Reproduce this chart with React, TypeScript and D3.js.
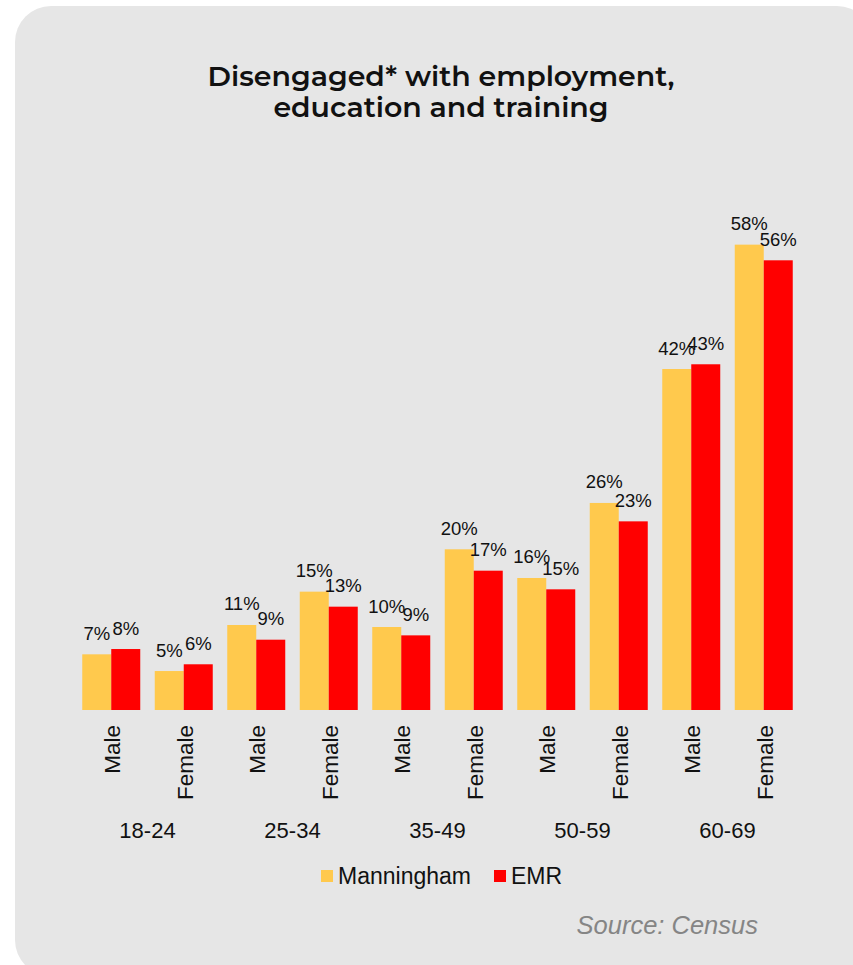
import React from "react";
import * as d3 from "d3";

const categories = ["Male", "Female", "Male", "Female", "Male", "Female", "Male", "Female", "Male", "Female"];
const ageGroups = ["18-24", "25-34", "35-49", "50-59", "60-69"];
const manningham = [6.93, 4.85, 10.58, 14.73, 10.33, 20.0, 16.43, 25.77, 42.44, 57.92];
const emr = [7.59, 5.69, 8.75, 12.86, 9.29, 17.34, 15.02, 23.48, 43.03, 55.97];
const seriesNames = ["Manningham", "EMR"];
const seriesColors = ["#FFC94D", "#FF0000"];
const titleLines = ["Disengaged* with employment,", "education and training"];
const sourceText = "Source: Census";

const W = 853;
const H = 965;

export default function App() {
  const idx = categories.map((_, i) => String(i));
  const x = d3.scaleBand<string>().domain(idx).range([75, 800]).paddingInner(0.2).paddingOuter(0.1);
  const x1 = d3.scaleBand<string>().domain(seriesNames).range([0, x.bandwidth()]).padding(0);
  const y = d3.scaleLinear().domain([0, 58]).range([710, 244]);
  const series = [manningham, emr];
  const labelFont = "'Liberation Sans', Arial, sans-serif";
  const fmt = (v: number) => `${Math.round(v)}%`;

  return (
    <svg width={W} height={H} style={{ position: "absolute", left: 0, top: 0 }}>
      <rect x={15} y={6} width={W + 5} height={H + 5} rx={36} ry={36} fill="#e6e6e6" />
      <text x={441} textAnchor="middle" fontFamily="Montserrat, 'Open Sans', sans-serif" fontWeight={600} fontSize={28.4} fill="#111">
        {titleLines.map((t, i) => (
          <tspan key={i} x={441} y={86 + i * 31}>{t}</tspan>
        ))}
      </text>
      {series.map((vals, s) =>
        vals.map((v, i) => {
          const bx = (x(String(i)) ?? 0) + (x1(seriesNames[s]) ?? 0);
          const bw = x1.bandwidth();
          return (
            <g key={`${s}-${i}`}>
              <rect x={bx} y={y(v)} width={bw} height={y(0) - y(v)} fill={seriesColors[s]} />
              <text x={bx + bw / 2} y={y(v) - 14.5} textAnchor="middle" fontFamily={labelFont} fontSize={18.5} fill="#111">
                {fmt(v)}
              </text>
            </g>
          );
        })
      )}
      {categories.map((c, i) => {
        const cx = (x(String(i)) ?? 0) + x.bandwidth() / 2 + 9;
        return (
          <text key={i} transform={`translate(${cx},725) rotate(-90)`} textAnchor="end" fontFamily={labelFont} fontSize={22.5} fill="#111">
            {c}
          </text>
        );
      })}
      {ageGroups.map((g, k) => {
        const a = (x(String(2 * k)) ?? 0) + x.bandwidth() / 2;
        const b = (x(String(2 * k + 1)) ?? 0) + x.bandwidth() / 2;
        return (
          <text key={g} x={(a + b) / 2} y={838} textAnchor="middle" fontFamily={labelFont} fontSize={22} fill="#111">
            {g}
          </text>
        );
      })}
      {seriesNames.map((n, s) => {
        const lx = [321, 494][s];
        return (
          <g key={n}>
            <rect x={lx} y={870} width={12} height={12} fill={seriesColors[s]} />
            <text x={lx + 17} y={884} fontFamily={labelFont} fontSize={23} fill="#111">{n}</text>
          </g>
        );
      })}
      <text x={758} y={934} textAnchor="end" fontFamily={labelFont} fontStyle="italic" fontSize={25.5} fill="#858585">
        {sourceText}
      </text>
    </svg>
  );
}
